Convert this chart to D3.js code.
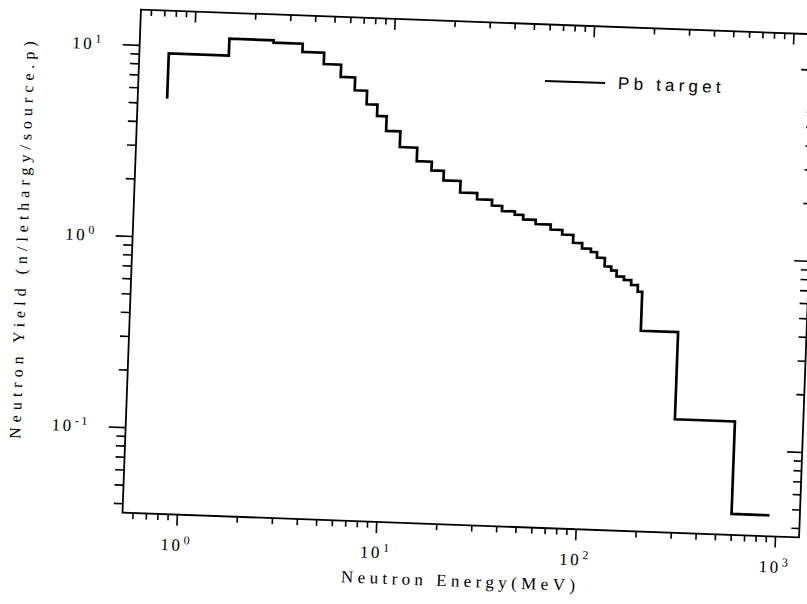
<!DOCTYPE html>
<html>
<head>
<meta charset="utf-8">
<script src="https://cdn.jsdelivr.net/npm/d3@7"></script>
<style>
  body { margin: 0; background: #fff; }
  svg { display: block; }
</style>
</head>
<body>
<svg id="chart" width="807" height="604"></svg>
<script>
// bin edges (MeV) and yield per bin
const energyEdges = [0.75, 1.5, 2.5, 3.5, 4.5, 5.5, 6.5, 7.5, 8.5, 9.5,
  11.2, 13.7, 16.3, 18.8, 22.9, 27.9, 33.2, 37.4, 43.4, 47.9,
  55.4, 66, 75.6, 86, 95.6, 106, 114, 125, 135, 144,
  157, 171, 185, 195, 300, 600, 930];
const yields = [9.14, 11.2, 10.9, 9.87, 8.61, 7.43, 6.37, 5.41, 4.72, 3.96,
  3.28, 2.79, 2.51, 2.24, 1.95, 1.81, 1.69, 1.59, 1.53, 1.45,
  1.38, 1.30, 1.23, 1.12, 1.05, 1.01, 0.945, 0.855, 0.817, 0.762,
  0.733, 0.692, 0.64, 0.40, 0.14, 0.046];
const startYield = 5.3;
const xMajorTicks = [1, 10, 100, 1000];
const yMajorTicks = [0.1, 1, 10];
const xTitle = 'Neutron Energy(MeV)';
const yTitle = 'Neutron Yield (n/lethargy/source.p)';
const legendLabel = 'Pb target';

const svg = d3.select('#chart');
const margin = { left: 131.5, top: 21.8 };
const innerWidth = 677;
const innerHeight = 503.4;

// the scan is tilted a little clockwise
const page = svg.append('g')
    .attr('transform', 'rotate(2.1, 470, 273.5)');
const g = page.append('g')
    .attr('transform', `translate(${margin.left},${margin.top})`);

const xScale = d3.scaleLog()
  .domain([0.534, 1320])
  .range([0, innerWidth]);
const yScale = d3.scaleLog()
  .domain([0.0357, 15.3])
  .range([innerHeight, 0]);

const minorTicks = (scale, majors) => {
  const [lo, hi] = scale.domain();
  const out = [];
  for (let k = -3; k <= 4; k++) {
    for (let m = 2; m <= 9; m++) {
      const v = m * Math.pow(10, k);
      if (v > lo && v < hi) out.push(v);
    }
  }
  return out.filter(v => !majors.includes(v));
};

const superLabel = sel => {
  sel.selectAll('.tick text').each(function(d) {
    const t = d3.select(this).text('');
    t.append('tspan').text('10');
    t.append('tspan')
      .attr('font-size', 12)
      .attr('dy', '-0.55em')
      .attr('dx', 1)
      .text(String(Math.round(Math.log10(d))));
  });
};

const styleAxis = sel => {
  sel.select('.domain').remove();
  sel.selectAll('.tick line')
    .attr('stroke', '#000')
    .attr('stroke-width', 1.6);
  sel.selectAll('.tick text')
    .attr('fill', '#000')
    .attr('font-family', '"Liberation Serif", serif')
    .attr('font-size', 17)
    .attr('letter-spacing', 2.5);
};

// tick marks only, no labels
const bareTicks = sel => {
  sel.call(styleAxis);
  sel.selectAll('.tick text').remove();
};

// bottom axis
g.append('g')
    .attr('transform', `translate(0,${innerHeight})`)
    .call(d3.axisBottom(xScale).tickValues(minorTicks(xScale, xMajorTicks)).tickSize(6))
    .call(bareTicks);
g.append('g')
    .attr('transform', `translate(0,${innerHeight})`)
    .call(d3.axisBottom(xScale).tickValues(xMajorTicks).tickSize(11).tickPadding(13))
    .call(styleAxis)
    .call(superLabel);

// top axis, ticks pointing in
g.append('g')
    .call(d3.axisBottom(xScale).tickValues(minorTicks(xScale, xMajorTicks)).tickSize(6))
    .call(bareTicks);
g.append('g')
    .call(d3.axisBottom(xScale).tickValues(xMajorTicks).tickSize(11))
    .call(bareTicks);

// left axis
g.append('g')
    .call(d3.axisLeft(yScale).tickValues(minorTicks(yScale, yMajorTicks)).tickSize(9))
    .call(bareTicks);
g.append('g')
    .call(d3.axisLeft(yScale).tickValues(yMajorTicks).tickSize(17).tickPadding(19))
    .call(styleAxis)
    .call(superLabel);

// right axis, ticks pointing in
g.append('g')
    .attr('transform', `translate(${innerWidth},0)`)
    .call(d3.axisLeft(yScale).tickValues(minorTicks(yScale, yMajorTicks)).tickSize(8))
    .call(bareTicks);
g.append('g')
    .attr('transform', `translate(${innerWidth},0)`)
    .call(d3.axisLeft(yScale).tickValues(yMajorTicks).tickSize(15))
    .call(bareTicks);

// frame
g.append('rect')
    .attr('width', innerWidth)
    .attr('height', innerHeight)
    .attr('fill', 'none')
    .attr('stroke', '#000')
    .attr('stroke-width', 1.8);

// histogram as a step line
const points = [[energyEdges[0], startYield]]
  .concat(yields.map((v, i) => [energyEdges[i], v]))
  .concat([[energyEdges[energyEdges.length - 1], yields[yields.length - 1]]]);

const line = d3.line()
  .x(d => xScale(d[0]))
  .y(d => yScale(d[1]))
  .curve(d3.curveStepAfter);

g.append('path')
    .datum(points)
    .attr('d', line)
    .attr('fill', 'none')
    .attr('stroke', '#000')
    .attr('stroke-width', 2.7);

// legend
g.append('line')
    .attr('x1', 406.5)
    .attr('x2', 466.5)
    .attr('y1', 56.5)
    .attr('y2', 56.5)
    .attr('stroke', '#000')
    .attr('stroke-width', 2);
g.append('text')
    .attr('x', 479.5)
    .attr('y', 62)
    .attr('font-family', '"Liberation Sans", Arial, sans-serif')
    .attr('font-size', 17)
    .attr('letter-spacing', 4.2)
    .text(legendLabel);

// axis titles
g.append('text')
    .attr('x', 340)
    .attr('y', 565)
    .attr('text-anchor', 'middle')
    .attr('font-family', '"Liberation Serif", serif')
    .attr('font-size', 17)
    .attr('letter-spacing', 4.4)
    .text(xTitle);

g.append('text')
    .attr('transform', `translate(-110.5,232.1) rotate(-90)`)
    .attr('text-anchor', 'middle')
    .attr('dy', '0.35em')
    .attr('font-family', '"Liberation Serif", serif')
    .attr('font-size', 16)
    .attr('letter-spacing', 5)
    .text(yTitle);
</script>
</body>
</html>
